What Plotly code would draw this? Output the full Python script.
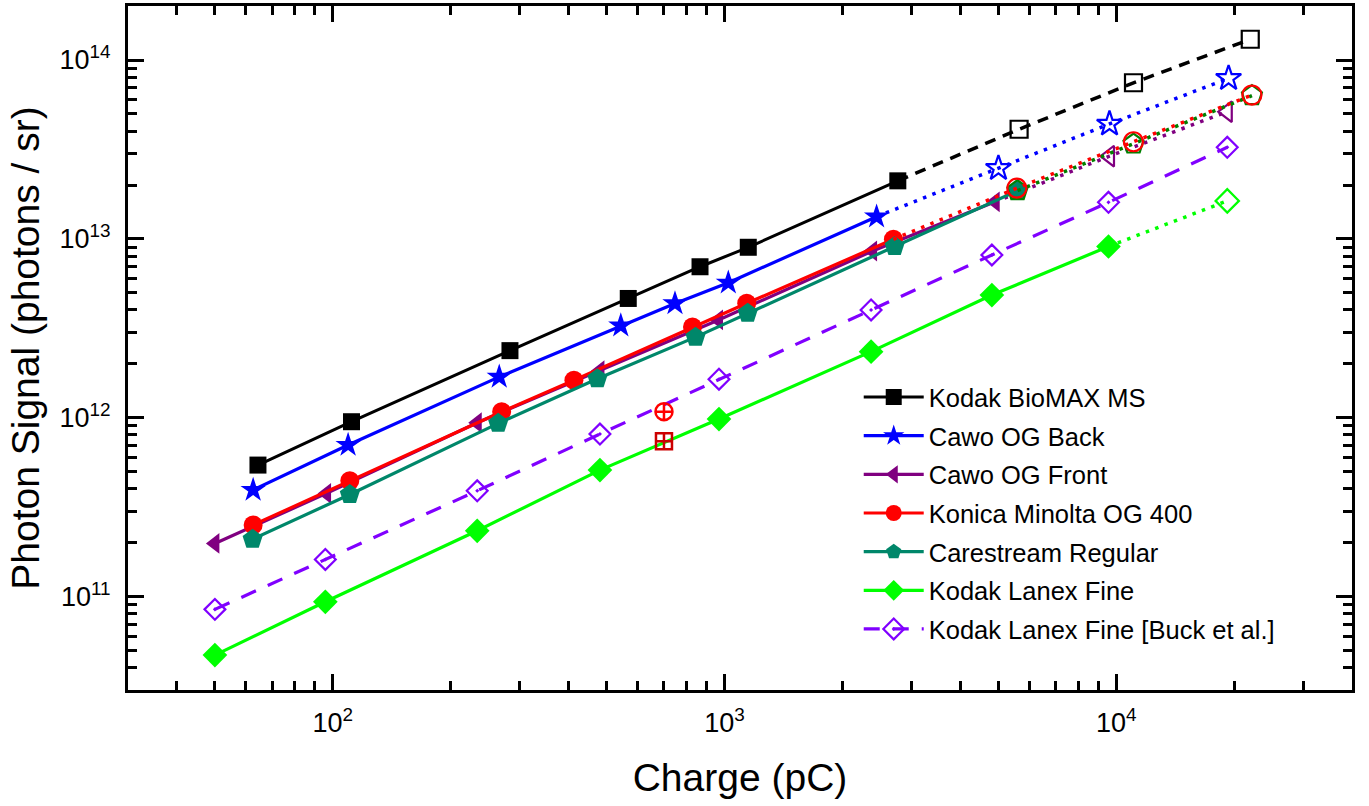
import plotly.graph_objects as go

# ---------------- data ----------------
# Kodak BioMAX MS
biomax_q = [64.4, 111.6, 283.3, 567.9, 865.9, 1150, 2770]
biomax_s = [5.43e11, 9.49e11, 2.37e12, 4.64e12, 6.98e12, 8.97e12, 2.11e13]
biomax_q_ext = [2770, 5651, 11070, 21990]
biomax_s_ext = [2.11e13, 4.10e13, 7.46e13, 1.306e14]

# Cawo OG Back
back_q = [62.6, 109.4, 266.0, 543.5, 747.4, 1022.6, 2445]
back_s = [3.94e11, 7.03e11, 1.69e12, 3.27e12, 4.35e12, 5.68e12, 1.33e13]
back_q_ext = [2445, 5004, 9613, 19360]
back_s_ext = [1.33e13, 2.48e13, 4.39e13, 7.90e13]

# Cawo OG Front
front_q = [50, 96.4, 233.7, 480.8, 965.4, 2388, 4909]
front_s = [1.98e11, 3.77e11, 9.37e11, 1.83e12, 3.52e12, 8.55e12, 1.61e13]
front_q_ext = [4909, 9613, 19210]
front_s_ext = [1.61e13, 2.90e13, 5.14e13]

# Konica Minolta OG 400
konica_q = [62.6, 110.5, 269.8, 412.6, 828.4, 1139.4, 2699]
konica_s = [2.51e11, 4.44e11, 1.08e12, 1.62e12, 3.21e12, 4.36e12, 9.94e12]
konica_q_ext = [2699, 5577, 11070, 22210]
konica_s_ext = [9.94e12, 1.92e13, 3.49e13, 6.37e13]

# Carestream Regular
care_q = [62.4, 110.5, 264.4, 473.7, 843.3, 1146, 2718, 5597]
care_s = [2.09e11, 3.72e11, 9.29e11, 1.65e12, 2.82e12, 3.83e12, 9.06e12, 1.86e13]
care_q_ext = [5597, 11070, 22210]
care_s_ext = [1.86e13, 3.39e13, 6.32e13]

# Kodak Lanex Fine
lanex_q = [50, 95.7, 233.7, 480.8, 968, 2367, 4815, 9557]
lanex_s = [4.70e10, 9.34e10, 2.33e11, 5.09e11, 9.82e11, 2.34e12, 4.85e12, 9.06e12]
lanex_q_ext = [9557, 19210]
lanex_s_ext = [9.06e12, 1.63e13]

# Kodak Lanex Fine [Buck et al.]
buck_q = [50, 95.7, 233.7, 480.8, 968, 2367, 4815, 9557, 19210]
buck_s = [8.47e10, 1.61e11, 3.90e11, 8.10e11, 1.64e12, 4.00e12, 8.12e12, 1.60e13, 3.25e13]

# single extra points
extra_circle_q = [700.6]
extra_circle_s = [1.08e12]
extra_square_q = [700.6]
extra_square_s = [7.37e11]

x_tick_vals = [100, 1000, 10000]
x_tick_text = ["10<sup>2</sup>", "10<sup>3</sup>", "10<sup>4</sup>"]
y_tick_vals = [1e11, 1e12, 1e13, 1e14]
y_tick_text = ["10<sup>11</sup>", "10<sup>12</sup>", "10<sup>13</sup>", "10<sup>14</sup>"]

# ---------------- styles ----------------
FONT = "Arial, Liberation Sans, sans-serif"
BLACK = "#000000"
BLUE = "#0000FF"
PURPLE = "#800080"
RED = "#FF0000"
TEAL = "#00876A"
DKGREEN = "#008000"
LIME = "#00FF00"
VIOLET = "#8000FF"
DKRED = "#CC0000"

fig = go.Figure()


def solid(name, q, s, color, symbol, size, width=3.2):
    fig.add_trace(go.Scatter(
        x=q, y=s, name=name, legendgroup=name, mode="lines+markers",
        line=dict(color=color, width=width),
        marker=dict(symbol=symbol, size=size, color=color, line=dict(width=0)),
    ))


def ext(name, q, s, color, symbol, size, dash, skip_first=True):
    # line over all points, open markers on the extrapolated points
    fig.add_trace(go.Scatter(
        x=q, y=s, name=name, legendgroup=name, showlegend=False, mode="lines",
        line=dict(color=color, width=3.5, dash=dash), hoverinfo="skip",
    ))
    qq = q[1:] if skip_first else q
    ss = s[1:] if skip_first else s
    fig.add_trace(go.Scatter(
        x=qq, y=ss, name=name, legendgroup=name, showlegend=False, mode="markers",
        marker=dict(symbol=symbol, size=size, color=color, line=dict(color=color, width=2.2)),
    ))


DOT = "3.5px,6.5px"

solid("Kodak BioMAX MS", biomax_q, biomax_s, BLACK, "square", 17, width=3)
ext("Kodak BioMAX MS", biomax_q_ext, biomax_s_ext, BLACK, "square-open", 17, "11px,8px")

solid("Cawo OG Back", back_q, back_s, BLUE, "star", 19)
ext("Cawo OG Back", back_q_ext, back_s_ext, BLUE, "star-open", 19, DOT)

solid("Cawo OG Front", front_q, front_s, PURPLE, "triangle-left", 18)
ext("Cawo OG Front", front_q_ext, front_s_ext, PURPLE, "triangle-left-open", 18, DOT)

solid("Konica Minolta OG 400", konica_q, konica_s, RED, "circle", 19)

solid("Carestream Regular", care_q, care_s, TEAL, "pentagon", 21)
ext("Carestream Regular", care_q_ext, care_s_ext, DKGREEN, "pentagon-open", 21, DOT, skip_first=False)
ext("Konica Minolta OG 400", konica_q_ext, konica_s_ext, RED, "circle-open", 19, DOT)

solid("Kodak Lanex Fine", lanex_q, lanex_s, LIME, "diamond", 19)
ext("Kodak Lanex Fine", lanex_q_ext, lanex_s_ext, LIME, "diamond-open", 18, DOT)

fig.add_trace(go.Scatter(
    x=buck_q, y=buck_s, name="Kodak Lanex Fine [Buck et al.]",
    legendgroup="buck", mode="lines+markers",
    line=dict(color=VIOLET, width=3.2, dash="16px,13px"),
    marker=dict(symbol="diamond-open-dot", size=16, color=VIOLET, line=dict(color=VIOLET, width=2.2)),
))

fig.add_trace(go.Scatter(
    x=extra_circle_q, y=extra_circle_s, mode="markers", showlegend=False,
    marker=dict(symbol="circle-cross-open", size=17, color=RED, line=dict(color=RED, width=2.5)),
))
fig.add_trace(go.Scatter(
    x=extra_square_q, y=extra_square_s, mode="markers", showlegend=False,
    marker=dict(symbol="square-cross-open", size=16, color=DKRED, line=dict(color=DKRED, width=2.5)),
))


def minor_vals(lo, hi):
    out = []
    for e in range(lo, hi + 1):
        for m in range(2, 10):
            out.append(m * 10 ** e)
    return out


axis_common = dict(
    type="log",
    showgrid=False,
    zeroline=False,
    showline=True,
    linecolor="black",
    linewidth=3,
    mirror="allticks",
    ticks="inside",
    ticklen=16,
    tickwidth=2.5,
    tickcolor="black",
    tickfont=dict(family=FONT, size=27, color="black"),
    tickmode="array",
)

fig.update_xaxes(
    **axis_common,
    range=[1.4771, 4.602],
    tickvals=x_tick_vals,
    ticktext=x_tick_text,
    minor=dict(ticks="inside", ticklen=9, tickwidth=2.5, tickcolor="black",
               tickmode="array", tickvals=minor_vals(1, 4), showgrid=False),
    title=dict(text="Charge (pC)", font=dict(family=FONT, size=39, color="black"), standoff=27),
    ticklabelstandoff=7,
)
fig.update_yaxes(
    **axis_common,
    range=[10.477, 14.302],
    tickvals=y_tick_vals,
    ticktext=y_tick_text,
    minor=dict(ticks="inside", ticklen=9, tickwidth=2.5, tickcolor="black",
               tickmode="array", tickvals=minor_vals(10, 14), showgrid=False),
    title=dict(text="Photon Signal (photons / sr)", font=dict(family=FONT, size=39, color="black"), standoff=8),
    ticklabelstandoff=9,
)

fig.update_layout(
    width=1369,
    height=806,
    margin=dict(l=128, r=17, t=6, b=116, autoexpand=False),
    paper_bgcolor="white",
    plot_bgcolor="white",
    font=dict(family=FONT, color="black"),
    legend=dict(
        x=0.597, y=0.462, xanchor="left", yanchor="top",
        font=dict(family=FONT, size=25.5, color="black"),
        bgcolor="rgba(0,0,0,0)", borderwidth=0,
        tracegroupgap=2.5, itemwidth=60,
    ),
)

fig.write_html(
    "out.html",
    config={"displayModeBar": False},
    post_script="document.body.style.margin='0';document.body.style.overflow='hidden';",
)
